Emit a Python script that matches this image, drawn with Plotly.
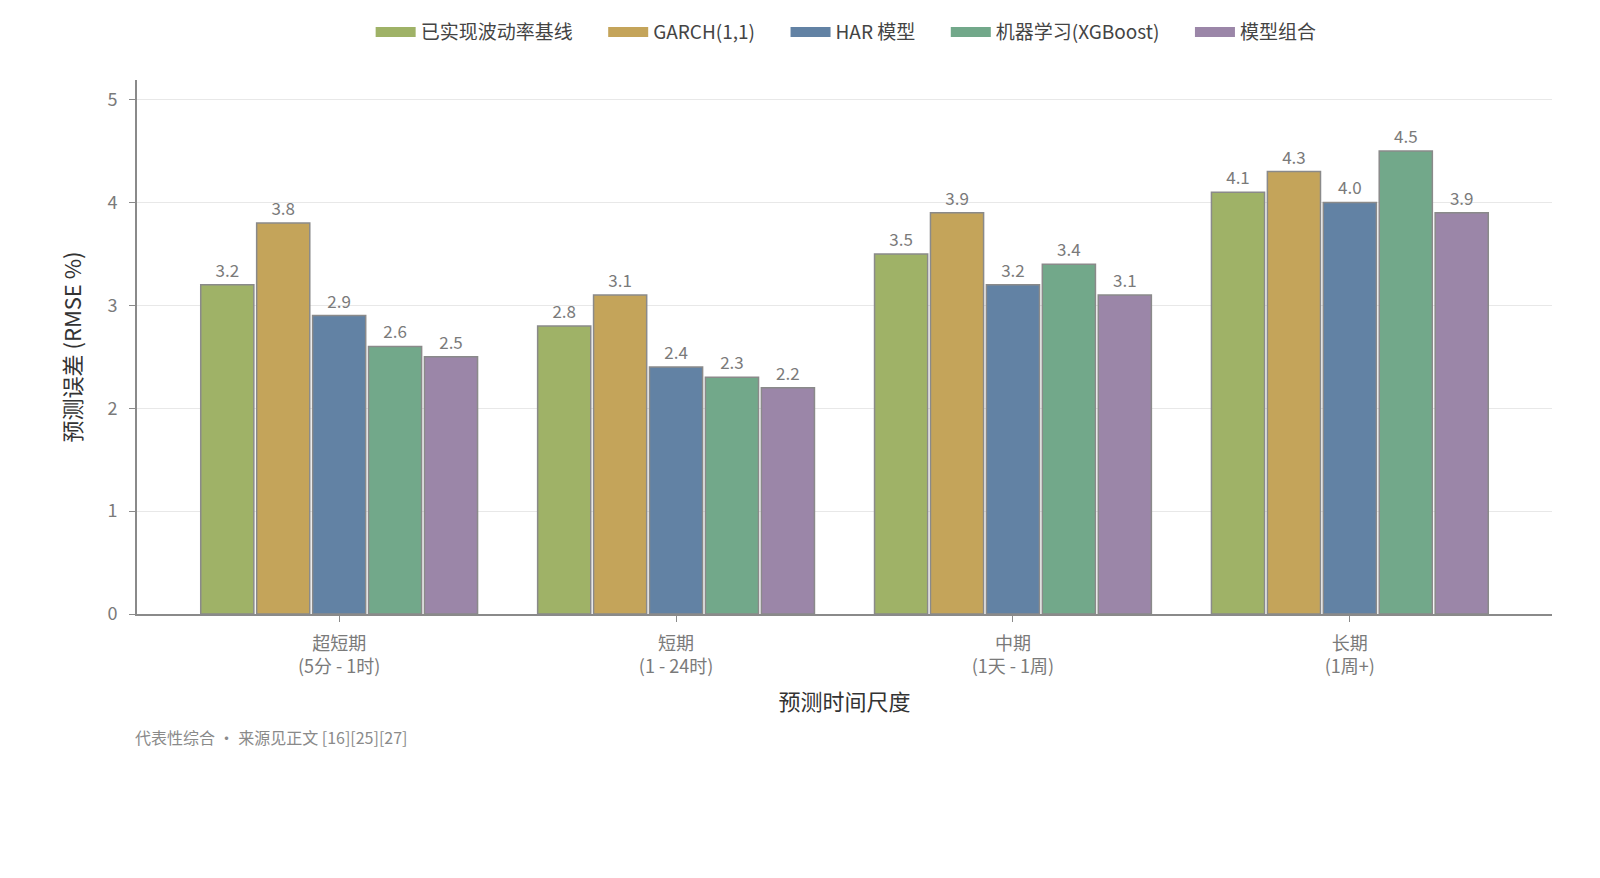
import plotly.graph_objects as go

categories = ["超短期<br>(5分 - 1时)", "短期<br>(1 - 24时)", "中期<br>(1天 - 1周)", "长期<br>(1周+)"]
series_names = ["已实现波动率基线", "GARCH(1,1)", "HAR 模型", "机器学习(XGBoost)", "模型组合"]
realized = [3.2, 2.8, 3.5, 4.1]
garch = [3.8, 3.1, 3.9, 4.3]
har = [2.9, 2.4, 3.2, 4.0]
xgb = [2.6, 2.3, 3.4, 4.5]
combo = [2.5, 2.2, 3.1, 3.9]
colors = ["#9fb267", "#c4a45a", "#6282a4", "#72a88a", "#9b86a8"]

FONT = "Noto Sans CJK SC, Noto Sans, sans-serif"
PAD = "\u00a0" * 6  # a bit more room between legend entries

fig = go.Figure()
for name, vals, c in zip(series_names, [realized, garch, har, xgb, combo], colors):
    fig.add_trace(go.Bar(
        name=name,
        x=categories,
        y=vals,
        legendgroup=name,
        showlegend=False,
        marker=dict(color=c, line=dict(color="#8a8a8a", width=1.5)),
        text=[f"{v:.1f}" for v in vals],
        textposition="outside",
        textfont=dict(size=17, color="#7a7a7a"),
        cliponaxis=False,
    ))
    # wide legend swatch
    fig.add_trace(go.Scatter(
        name=name + PAD, x=[None], y=[None], mode="lines",
        legendgroup=name,
        line=dict(color=c, width=14),
    ))

fig.update_layout(
    barmode="group",
    bargap=0.17,
    bargroupgap=0.05,
    plot_bgcolor="white",
    paper_bgcolor="white",
    font=dict(family=FONT, size=15, color="#7a7a7a"),
    margin=dict(l=129, r=40, t=72, b=256),
    legend=dict(
        orientation="h", x=0.51, xanchor="center",
        yref="container", y=0.972, yanchor="middle",
        font=dict(size=19, color="#444"),
        itemwidth=40,
    ),
    annotations=[dict(
        text="代表性综合 ・ 来源见正文 [16][25][27]",
        xref="paper", yref="paper", x=-0.003, y=-0.231,
        xanchor="left", yanchor="middle", showarrow=False,
        font=dict(size=16, color="#8a8a8a"),
    )],
)

fig.update_xaxes(
    range=[-0.6, 3.6],
    showline=True, linecolor="#8a8a8a", linewidth=2,
    ticks="outside", ticklen=6, tickcolor="#8a8a8a",
    ticklabelstandoff=6,
    tickfont=dict(size=18, color="#7a7a7a"),
    title=dict(text="预测时间尺度", font=dict(size=22, color="#333"), standoff=18),
)
fig.update_yaxes(
    range=[0, 5.19],
    dtick=1,
    showline=True, linecolor="#8a8a8a", linewidth=2,
    ticks="outside", ticklen=6, tickcolor="#8a8a8a",
    ticklabelstandoff=8,
    showgrid=True, gridcolor="#e8e8e8", gridwidth=1,
    zeroline=False,
    tickfont=dict(size=18, color="#7a7a7a"),
    title=dict(text="预测误差 (RMSE %)", font=dict(size=22, color="#333"), standoff=20),
)

fig.write_html("out.html")
